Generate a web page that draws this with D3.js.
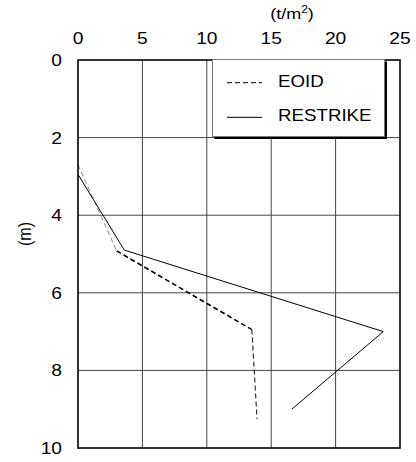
<!DOCTYPE html>
<html>
<head>
<meta charset="utf-8">
<script src="https://cdn.jsdelivr.net/npm/d3@7"></script>
<style>
  body { margin: 0; background: #fff; }
  text { font-family: "Liberation Sans", Arial, sans-serif; }
</style>
</head>
<body>
<div id="chart"></div>
<script>
// data: [stress t/m2, depth m]
const eoidX = [0, 3.0, 13.5, 13.9];
const eoidY = [2.7, 4.92, 6.95, 9.25];
const restrikeX = [0, 3.6, 23.7, 16.6];
const restrikeY = [2.95, 4.9, 7.0, 9.0];
const xTicks = [0, 5, 10, 15, 20, 25];
const yTicks = [0, 2, 4, 6, 8, 10];
const legendLabels = ['EOID', 'RESTRIKE'];

const width = 416, height = 462;
const stretch = 1.2; // text in the source is a bit wide
const svg = d3.select('#chart').append('svg')
    .attr('width', width)
    .attr('height', height);

const x = d3.scaleLinear().domain([0, 25]).range([78, 400]);
const y = d3.scaleLinear().domain([0, 10]).range([60, 448]);

// grid
svg.append('g').selectAll('line')
    .data(xTicks.slice(1, -1))
    .join('line')
    .attr('x1', d => x(d)).attr('x2', d => x(d))
    .attr('y1', y(0)).attr('y2', y(10))
    .attr('stroke', '#444').attr('stroke-width', 1);

svg.append('g').selectAll('line')
    .data(yTicks.slice(1, -1))
    .join('line')
    .attr('x1', x(0)).attr('x2', x(25))
    .attr('y1', d => y(d)).attr('y2', d => y(d))
    .attr('stroke', '#444').attr('stroke-width', 1);

// tick labels (stretched horizontally like the source)
svg.append('g').selectAll('g')
    .data(xTicks)
    .join('g')
    .attr('transform', d => `translate(${x(d)},43.5) scale(${stretch},1)`)
    .append('text')
    .attr('text-anchor', 'middle')
    .attr('font-size', 16)
    .text(d => d);

svg.append('g').selectAll('g')
    .data(yTicks)
    .join('g')
    .attr('transform', d => `translate(62,${y(d) + 6}) scale(${stretch},1)`)
    .append('text')
    .attr('text-anchor', 'end')
    .attr('font-size', 16)
    .text(d => d);

// unit titles
const unitX = svg.append('g')
    .attr('transform', `translate(292,19) scale(${stretch},1)`)
    .append('text')
    .attr('text-anchor', 'middle')
    .attr('font-size', 15);
unitX.append('tspan').text('(t/m');
unitX.append('tspan').text('2').attr('font-size', 10).attr('dy', -6);
unitX.append('tspan').text(')').attr('dy', 6);

svg.append('g')
    .attr('transform', `translate(24,234) rotate(-90) scale(1,${stretch})`)
    .append('text')
    .attr('text-anchor', 'middle')
    .attr('dy', '0.35em')
    .attr('font-size', 16)
    .text('(m)');

// lines
const line = d3.line().x(d => x(d[0])).y(d => y(d[1]));
const eoid = d3.zip(eoidX, eoidY);
const restrike = d3.zip(restrikeX, restrikeY);

// EOID drawn per segment: the dashes get heavier in the middle part
const segStyle = [
    { w: 0.8, c: '#666' },
    { w: 1.6, c: '#000' },
    { w: 1.1, c: '#222' }
];
svg.append('g').selectAll('path')
    .data(d3.pairs(eoid))
    .join('path')
    .attr('d', d => line(d))
    .attr('fill', 'none')
    .attr('stroke', (d, i) => segStyle[i].c)
    .attr('stroke-width', (d, i) => segStyle[i].w)
    .attr('stroke-dasharray', '5,3');

svg.append('path')
    .datum(restrike)
    .attr('d', line)
    .attr('fill', 'none')
    .attr('stroke', '#000')
    .attr('stroke-width', 1);

// plot frame
svg.append('rect')
    .attr('x', x(0)).attr('y', y(0))
    .attr('width', x(25) - x(0)).attr('height', y(10) - y(0))
    .attr('fill', 'none')
    .attr('stroke', '#000')
    .attr('stroke-width', 1.6);

// legend
const lg = svg.append('g');
lg.append('rect')
    .attr('x', 214.5).attr('y', 61.5)
    .attr('width', 172.5).attr('height', 77.5)
    .attr('fill', '#000');
lg.append('rect')
    .attr('x', 212.5).attr('y', 59.5)
    .attr('width', 172).attr('height', 77)
    .attr('fill', '#fff')
    .attr('stroke', '#777')
    .attr('stroke-width', 1);

const items = lg.selectAll('g.item')
    .data(legendLabels)
    .join('g')
    .attr('class', 'item')
    .attr('transform', (d, i) => `translate(0,${82.7 + i * 34.6})`);
items.append('line')
    .attr('x1', 227).attr('x2', 262)
    .attr('stroke', '#000')
    .attr('stroke-width', 1)
    .attr('stroke-dasharray', (d, i) => i === 0 ? '5,3' : null);
items.append('g')
    .attr('transform', `translate(278,4) scale(1.17,1)`)
    .append('text')
    .attr('font-size', 16)
    .text(d => d);
</script>
</body>
</html>
